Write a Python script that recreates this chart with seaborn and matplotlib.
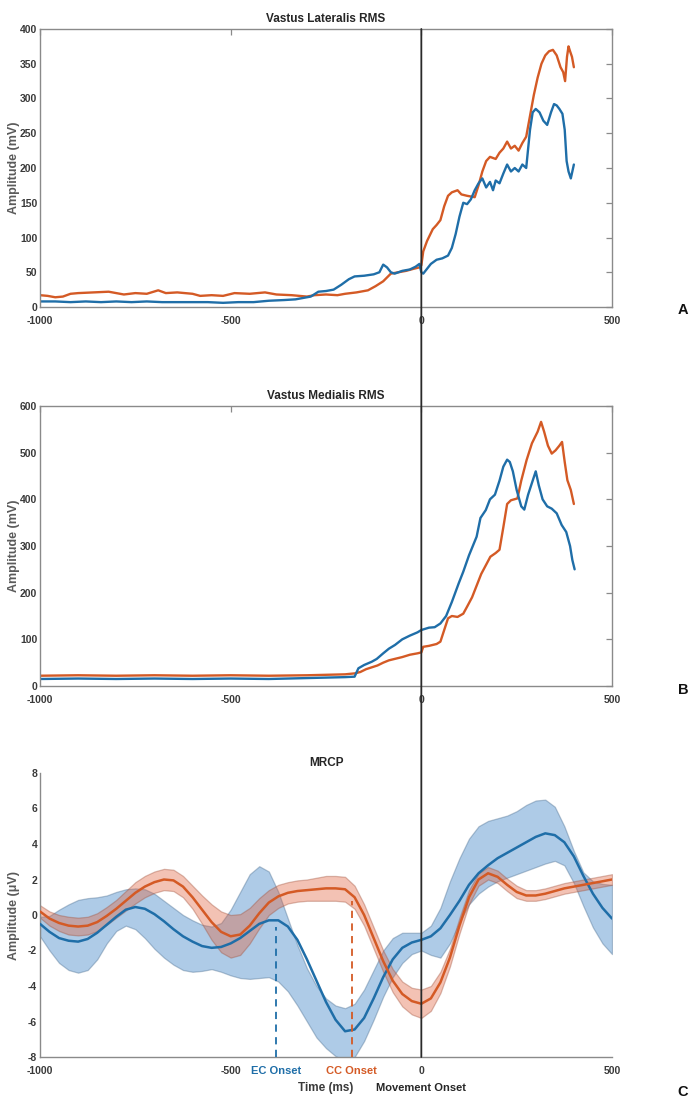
import numpy as np
import matplotlib
matplotlib.use("Agg")
import matplotlib.pyplot as plt
from matplotlib.patches import ConnectionPatch
import seaborn as sns

# Colours (MATLAB-like)
BLUE = "#1f6ea8"
ORANGE = "#d45a25"

# ---------------- Vastus Lateralis RMS (mV) ----------------
vl_cc_t = [-1000, -980, -960, -940, -920, -900, -860, -820, -780, -750, -720, -690, -670, -640,
           -600, -580, -550, -520, -490, -450, -410, -380, -340, -300, -280, -250, -220, -200,
           -170, -140, -120, -100, -80, -60, -40, -20, -5, 0, 5, 15, 30, 40, 50, 60, 70, 80, 95,
           105, 120, 140, 150, 160, 170, 180, 195, 205, 215, 225, 235, 245, 255, 265, 275, 285,
           295, 305, 315, 325, 335, 345, 355, 365, 372, 377, 382, 386, 390, 395, 400]
vl_cc = [17, 16, 14, 15, 19, 20, 21, 22, 18, 20, 19, 24, 20, 21,
         19, 16, 17, 16, 20, 19, 21, 18, 17, 15, 17, 18, 17, 19,
         21, 24, 30, 37, 48, 50, 52, 55, 57, 60, 80, 95, 112, 118, 125, 145, 160, 165, 168,
         162, 160, 158, 175, 195, 210, 216, 213, 222, 228, 238, 228, 232, 225, 236, 245, 275,
         305, 330, 350, 362, 368, 370, 362, 345, 338, 325, 360, 375, 368, 360, 345]

vl_ec_t = [-1000, -960, -920, -880, -840, -800, -760, -720, -680, -640, -600, -560, -520, -480,
           -440, -400, -360, -330, -310, -290, -270, -250, -230, -210, -190, -175, -150, -125,
           -110, -100, -90, -80, -70, -50, -30, -15, -5, 0, 5, 15, 25, 40, 55, 70, 80, 90, 100,
           110, 120, 130, 140, 150, 160, 170, 180, 188, 195, 205, 215, 225, 235, 245, 255, 265,
           275, 285, 292, 300, 310, 320, 330, 340, 348, 355, 362, 370, 376, 381, 386, 392, 396, 400]
vl_ec = [8, 8, 7, 8, 7, 8, 7, 8, 7, 7, 7, 7, 6, 7,
         7, 9, 10, 11, 13, 15, 22, 23, 25, 32, 40, 44, 45, 47,
         50, 61, 57, 50, 48, 52, 54, 58, 62, 50, 48, 55, 62, 68, 70, 74, 85, 105, 130,
         150, 148, 155, 168, 178, 185, 172, 180, 168, 182, 178, 192, 205, 195, 200, 195, 205,
         200, 255, 280, 285, 280, 268, 262, 280, 292, 290, 285, 278, 255, 210, 195, 185, 195, 205]

# ---------------- Vastus Medialis RMS (mV) ----------------
vm_cc_t = [-1000, -900, -800, -700, -600, -500, -400, -300, -250, -200, -175, -160, -145, -130,
           -115, -100, -85, -70, -50, -30, -10, 0, 5, 20, 40, 50, 60, 70, 80, 95, 110, 120, 133,
           145, 157, 170, 181, 195, 205, 215, 225, 235, 252, 262, 276, 290, 305, 314, 322, 332,
           342, 352, 362, 369, 376, 383, 392, 400]
vm_cc = [22, 23, 22, 23, 22, 23, 22, 23, 24, 25, 27, 30, 36, 40,
         44, 50, 55, 58, 62, 67, 70, 72, 84, 86, 90, 95, 120, 145, 150, 148, 155, 170, 190,
         215, 240, 260, 277, 285, 292, 340, 390, 398, 402, 440, 484, 520, 545, 566, 545, 515,
         498, 505, 515, 523, 480, 441, 420, 390]

vm_ec_t = [-1000, -900, -800, -700, -600, -500, -400, -300, -250, -200, -175, -165, -150, -130,
           -117, -100, -85, -69, -50, -30, -10, 0, 20, 35, 50, 65, 80, 98, 110, 125, 135, 145,
           155, 169, 180, 193, 205, 215, 225, 232, 240, 250, 262, 270, 280, 292, 300, 308, 318,
           330, 342, 355, 368, 380, 390, 396, 402]
vm_ec = [15, 16, 15, 16, 15, 16, 15, 17, 18, 19, 20, 38, 45, 52,
         58, 70, 80, 88, 100, 108, 115, 120, 125, 126, 134, 150, 180, 220, 245, 280, 300, 320,
         360, 377, 400, 410, 440, 470, 485, 480, 460, 420, 385, 378, 410, 440, 460, 430, 400,
         385, 380, 370, 345, 330, 300, 270, 250]

# ---------------- MRCP (uV) ----------------
mrcp_t = list(range(-1000, 501, 25))
ec_mean = [-0.5, -0.95, -1.3, -1.45, -1.5, -1.35, -1.0, -0.55, -0.1, 0.3, 0.45, 0.35, 0.05,
           -0.35, -0.8, -1.2, -1.5, -1.75, -1.85, -1.8, -1.6, -1.3, -0.9, -0.5, -0.3, -0.3,
           -0.65, -1.4, -2.5, -3.7, -4.9, -5.9, -6.55, -6.45, -5.8, -4.7, -3.5, -2.5, -1.85,
           -1.55, -1.4, -1.2, -0.75, 0.0, 0.8, 1.7, 2.35, 2.8, 3.2, 3.5, 3.8, 4.1, 4.4, 4.6,
           4.5, 4.1, 3.3, 2.2, 1.2, 0.4, -0.2]
ec_upper = [-0.1, -0.05, 0.3, 0.6, 0.85, 0.95, 1.0, 1.1, 1.3, 1.45, 1.5, 1.45, 1.2, 0.8, 0.4,
            0.0, -0.3, -0.55, -0.65, -0.45, 0.3, 1.3, 2.3, 2.75, 2.45, 1.3, -0.2, -1.7, -3.0,
            -4.0, -4.7, -5.1, -5.25, -5.0, -4.2, -3.1, -2.0, -1.3, -1.0, -1.0, -1.0, -0.6, 0.4,
            1.9, 3.2, 4.3, 5.0, 5.3, 5.45, 5.6, 5.85, 6.2, 6.45, 6.5, 6.1, 5.0, 3.6, 2.4, 1.9,
            1.75, 1.7]
ec_lower = [-1.2, -2.0, -2.7, -3.1, -3.25, -3.1, -2.5, -1.6, -0.9, -0.6, -0.8, -1.3, -1.9,
            -2.4, -2.8, -3.1, -3.2, -3.15, -3.05, -3.2, -3.4, -3.55, -3.6, -3.55, -3.5, -3.75,
            -4.3, -5.1, -6.0, -6.9, -7.5, -7.95, -8.2, -8.0, -7.1, -5.9, -4.6, -3.5, -2.7, -2.2,
            -2.0, -2.25, -2.4, -1.6, -0.4, 0.6, 1.2, 1.6, 1.9, 2.1, 2.3, 2.5, 2.7, 2.9, 3.05,
            2.8, 1.8, 0.5, -0.7, -1.6, -2.2]
cc_mean = [0.2, -0.2, -0.45, -0.6, -0.65, -0.6, -0.4, -0.05, 0.35, 0.8, 1.25, 1.6, 1.85, 2.0,
           1.95, 1.6, 1.0, 0.3, -0.4, -0.95, -1.2, -1.1, -0.6, 0.1, 0.7, 1.05, 1.25, 1.35, 1.4,
           1.45, 1.5, 1.5, 1.45, 1.0, 0.0, -1.3, -2.6, -3.7, -4.45, -4.85, -5.0, -4.7, -3.8,
           -2.4, -0.6, 1.0, 2.0, 2.35, 2.15, 1.7, 1.3, 1.1, 1.1, 1.2, 1.35, 1.5, 1.6, 1.7, 1.8,
           1.9, 2.0]
cc_err = [0.35, 0.4, 0.45, 0.5, 0.5, 0.5, 0.5, 0.5, 0.5, 0.55, 0.6, 0.6, 0.6, 0.6, 0.6, 0.6,
          0.65, 0.8, 1.0, 1.15, 1.2, 1.15, 1.0, 0.85, 0.7, 0.65, 0.6, 0.6, 0.6, 0.65, 0.7, 0.7,
          0.7, 0.65, 0.6, 0.6, 0.6, 0.65, 0.7, 0.75, 0.8, 0.7, 0.6, 0.5, 0.45, 0.4, 0.35, 0.35,
          0.35, 0.35, 0.35, 0.3, 0.3, 0.3, 0.3, 0.3, 0.3, 0.3, 0.3, 0.3, 0.3]

# onset markers (ms) and the height the dashed line reaches
ec_onset, ec_top = -380, -0.7
cc_onset, cc_top = -183, 0.8

x_ticks = [-1000, -500, 0, 500]

# ---------------- style ----------------
sns.set_style("white")
plt.rcParams['font.family'] = ['Liberation Sans', 'DejaVu Sans']
plt.rcParams['axes.unicode_minus'] = False
SPINE = "#8a8a8a"
TXT = "#3a3a3a"

fig = plt.figure(figsize=(6.91, 10.99), dpi=100)
W, H = 691, 1099


def add_ax(top, bottom):
    return fig.add_axes([40 / W, 1 - bottom / H, 572 / W, (bottom - top) / H])


def style(ax, box=True):
    for name, sp in ax.spines.items():
        sp.set_color(SPINE)
        sp.set_linewidth(1.0)
        if not box and name in ("top", "right"):
            sp.set_visible(False)
    ax.tick_params(direction='in', length=4, width=0.9, color=SPINE, labelcolor=TXT,
                   labelsize=7.5, top=box, right=box)
    ax.tick_params(axis='y', pad=2)
    ax.tick_params(axis='x', pad=6.5)
    ax.set_xlim(-1000, 500)
    ax.set_xticks(x_ticks)
    ax.set_xticklabels([str(v) for v in x_ticks])
    for lbl in ax.get_xticklabels() + ax.get_yticklabels():
        lbl.set_fontweight('bold')


def ylab(ax, text):
    ax.set_ylabel(text, fontweight='bold', fontsize=9, color="#5a5a5a")
    ax.yaxis.set_label_coords(-20 / 572, 0.5)


# Panel A
axA = add_ax(29, 307)
sns.lineplot(x=vl_cc_t, y=vl_cc, ax=axA, color=ORANGE, lw=1.7)
sns.lineplot(x=vl_ec_t, y=vl_ec, ax=axA, color=BLUE, lw=1.7)
axA.set_ylim(0, 400)
axA.set_yticks(range(0, 401, 50))
style(axA)
axA.set_title("Vastus Lateralis RMS", fontsize=8.5, fontweight='bold', color="#262626", pad=5)
ylab(axA, "Amplitude (mV)")

# Panel B
axB = add_ax(406, 686)
sns.lineplot(x=vm_cc_t, y=vm_cc, ax=axB, color=ORANGE, lw=1.7)
sns.lineplot(x=vm_ec_t, y=vm_ec, ax=axB, color=BLUE, lw=1.7)
axB.set_ylim(0, 600)
axB.set_yticks(range(0, 601, 100))
style(axB)
axB.set_title("Vastus Medialis RMS", fontsize=8.5, fontweight='bold', color="#262626", pad=5)
ylab(axB, "Amplitude (mV)")

# Panel C
axC = add_ax(773, 1057)
axC.fill_between(mrcp_t, ec_lower, ec_upper, color="#2a78c0", alpha=0.38, lw=0.9,
                 edgecolor="#46698c", zorder=1)
cc_lo = np.array(cc_mean) - np.array(cc_err)
cc_hi = np.array(cc_mean) + np.array(cc_err)
axC.fill_between(mrcp_t, cc_lo, cc_hi, color="#e0603a", alpha=0.38, lw=0.9,
                 edgecolor="#a0503a", zorder=2)
sns.lineplot(x=mrcp_t, y=ec_mean, ax=axC, color=BLUE, lw=1.8, zorder=3)
sns.lineplot(x=mrcp_t, y=cc_mean, ax=axC, color=ORANGE, lw=1.8, zorder=3)
axC.set_ylim(-8, 8)
axC.set_yticks(range(-8, 9, 2))
axC.vlines(ec_onset, -8, ec_top, colors=BLUE, linestyles=(0, (4, 3)), lw=1.3, zorder=4)
axC.vlines(cc_onset, -8, cc_top, colors=ORANGE, linestyles=(0, (4, 3)), lw=1.3, zorder=4)
style(axC, box=False)
axC.set_title("MRCP", fontsize=8.5, fontweight='bold', color="#262626", pad=5)
ylab(axC, "Amplitude (\u03bcV)")
axC.set_xlabel("Time (ms)", fontsize=8.5, fontweight='bold', color=TXT, labelpad=4)

for txt, xv, col, dy in [("EC Onset", ec_onset, BLUE, -6.5),
                         ("CC Onset", cc_onset, ORANGE, -6.5),
                         ("Movement Onset", 0, "#262626", -18.5)]:
    axC.annotate(txt, xy=(xv, 0), xycoords=('data', 'axes fraction'), xytext=(0, dy),
                 textcoords='offset points', ha='center', va='top', fontsize=8,
                 fontweight='bold', color=col)

# movement onset line running through all panels
con = ConnectionPatch(xyA=(0, axA.get_ylim()[1]), coordsA=axA.transData,
                      xyB=(0, axC.get_ylim()[0]), coordsB=axC.transData,
                      color="#2a2a2a", lw=1.3, zorder=10)
fig.add_artist(con)

# panel letters
for letter, ypx in [("A", 310), ("B", 690), ("C", 1092)]:
    fig.text(683 / W, 1 - ypx / H, letter, ha='center', va='center', fontsize=10.5,
             fontweight='bold', color="#111111")

fig.savefig("out.png", dpi=100)
